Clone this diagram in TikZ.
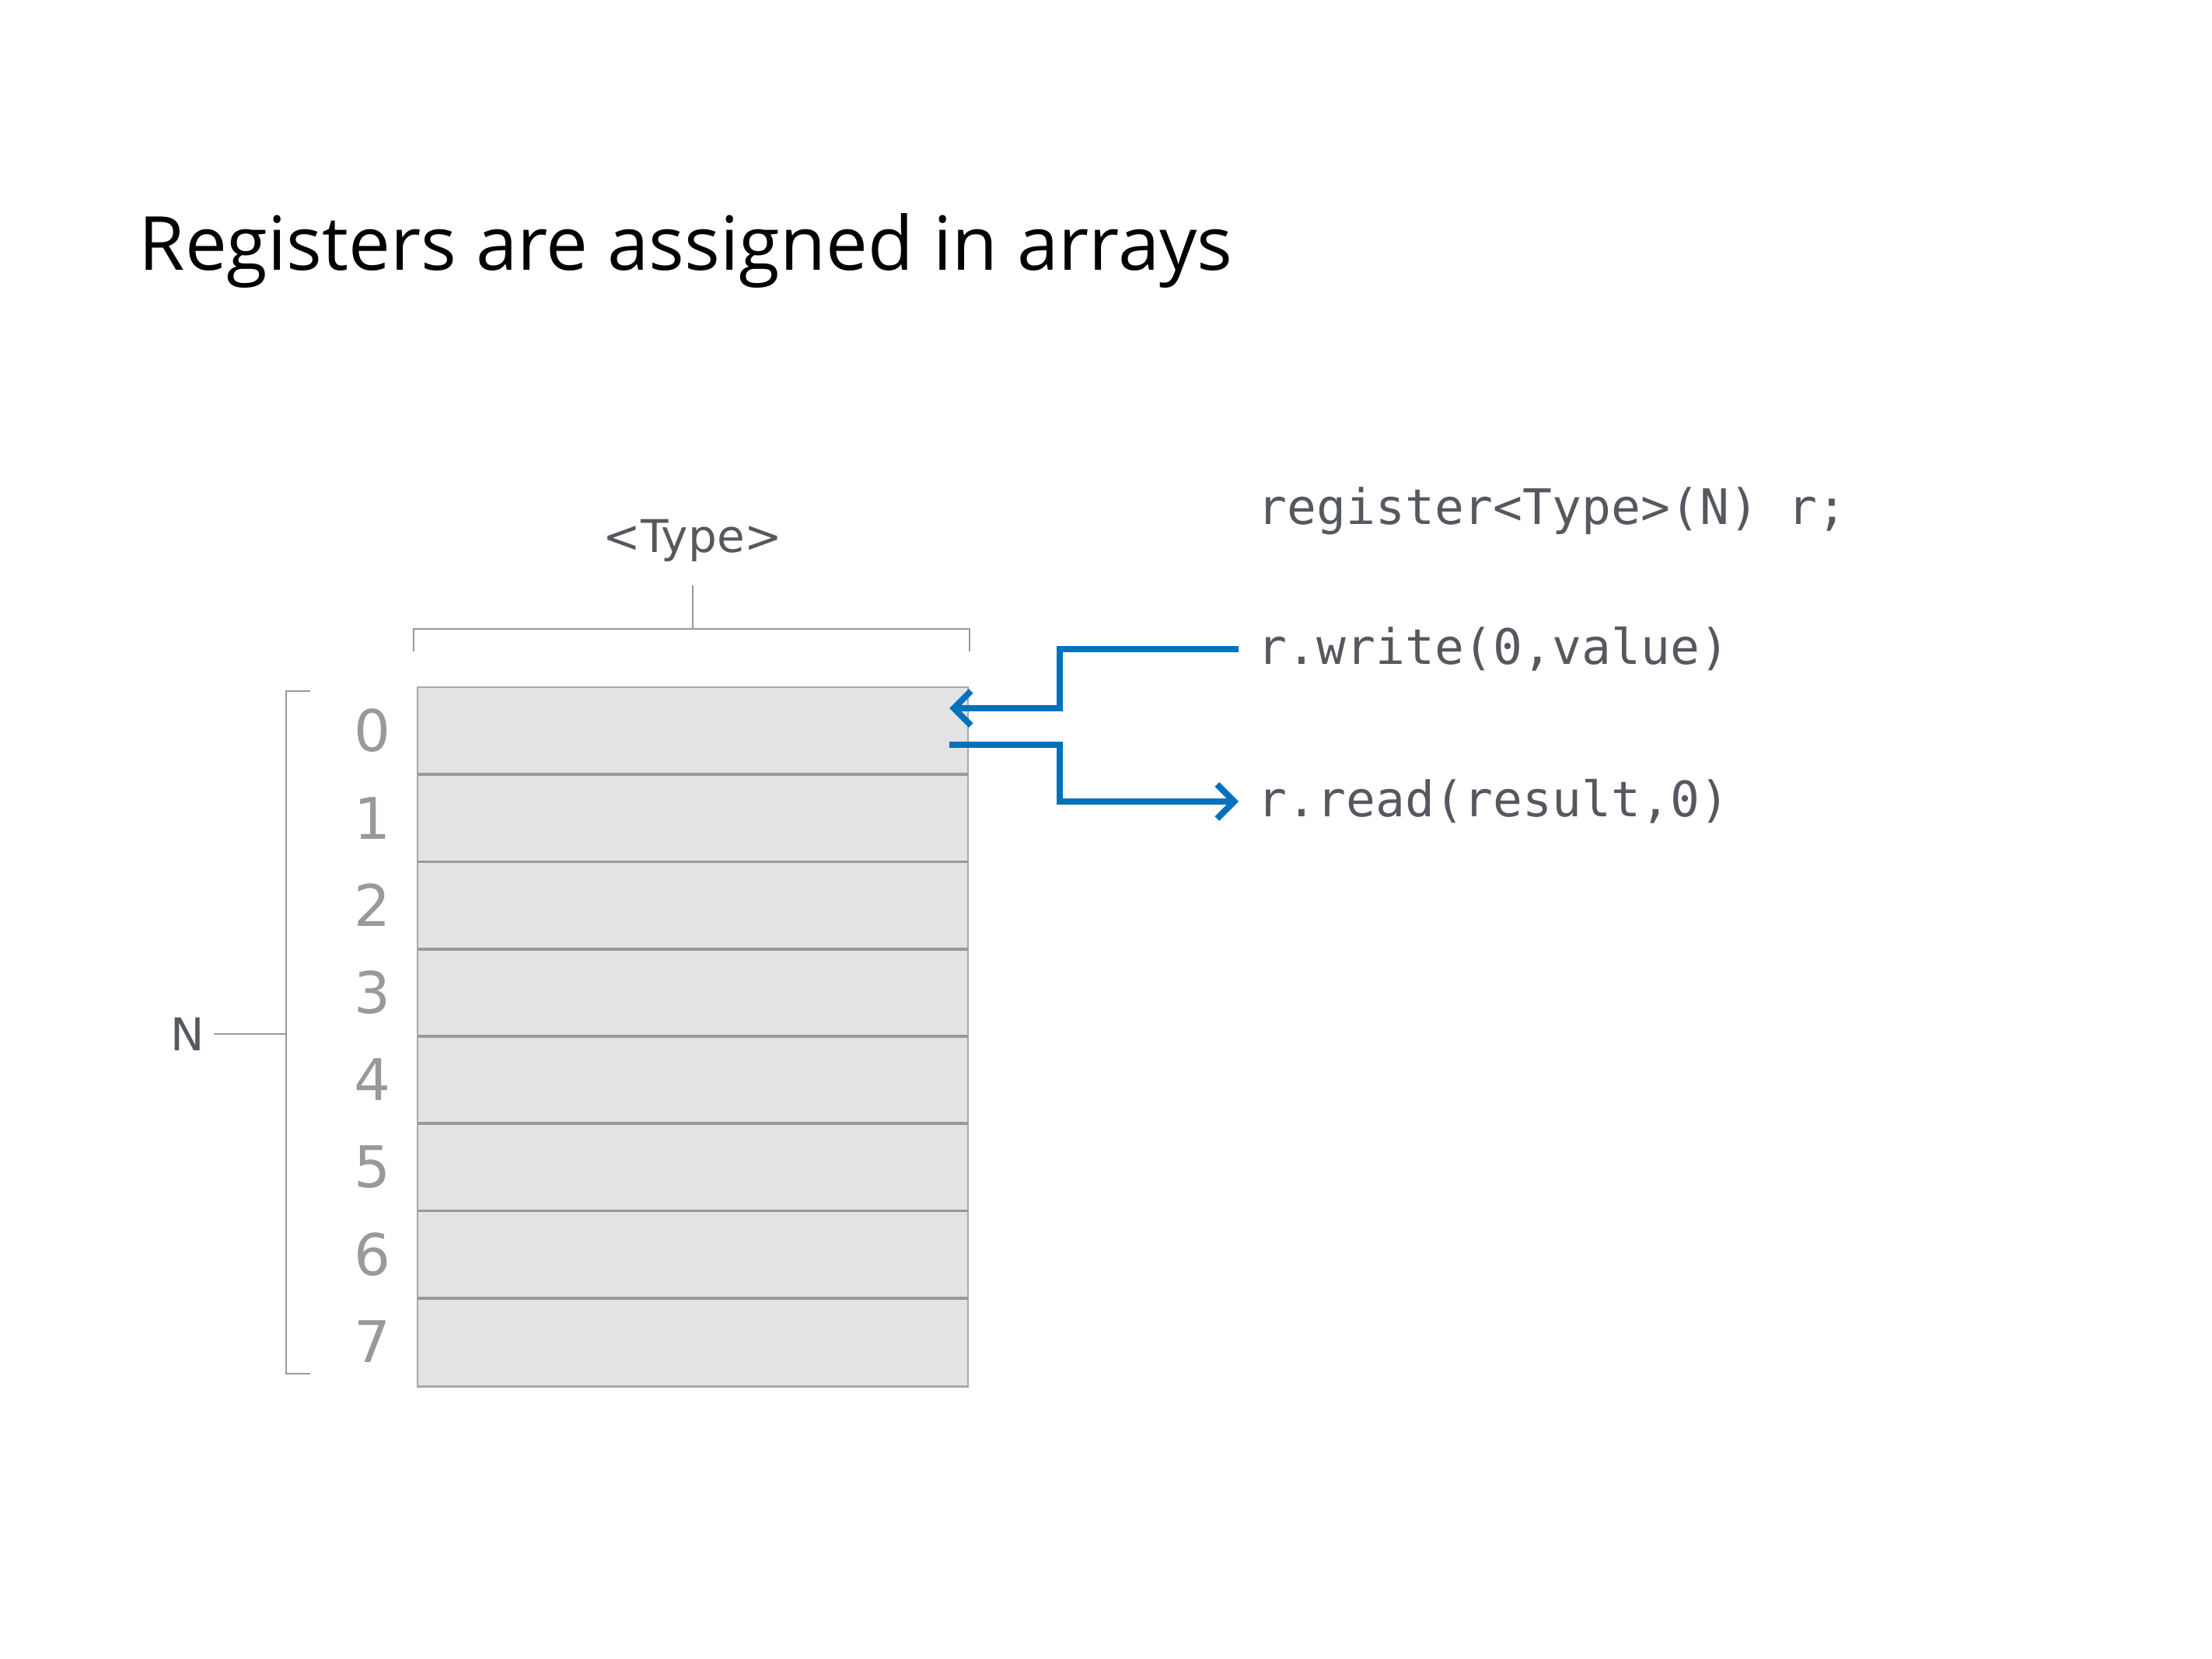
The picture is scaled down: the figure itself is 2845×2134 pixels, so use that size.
\documentclass[tikz,border=0pt]{standalone}
\usepackage{fontspec}
\setmainfont{DejaVu Sans}
\setmonofont{DejaVu Sans Mono}
\newfontfamily\titlefont{Open Sans}
\usetikzlibrary{arrows.meta}

\definecolor{linegray}{HTML}{999999}
\definecolor{cellfill}{HTML}{E3E3E3}
\definecolor{textgray}{HTML}{55595F}
\definecolor{flowblue}{HTML}{0072BB}

\begin{document}
\begin{tikzpicture}[x=0.01cm,y=-0.01cm,>={Straight Barb[length=0.22cm,width=0.44cm]},
    cell/.style={fill=cellfill,minimum width=7.06cm,minimum height=1.1225cm,
        inner sep=0pt,anchor=north west},
    brace/.style={draw=linegray,line width=0.6pt},
    sep/.style={draw=linegray,line width=1pt},
    idx/.style={text=linegray,font=\fontsize{21}{24}\selectfont},
    lbl/.style={text=textgray,font=\fontsize{16.5}{20}\selectfont},
    code/.style={text=textgray,font=\ttfamily\fontsize{17.9}{21}\selectfont,
        anchor=west,inner sep=0.24cm},
    flow/.style={draw=flowblue,line width=2.3pt}]

\useasboundingbox (0,0) rectangle (2845,2134);

% Title
\node[anchor=base west,inner sep=0pt,font=\titlefont\fontsize{27.3}{32}\selectfont]
    (title) at (178,348) {Registers are assigned in arrays};

% Register cells
\foreach \i in {0,...,7}{
    \node[cell] (cell\i) at (537,{884+112.25*\i}) {};
    \node[idx] (idx\i) at (479,{940+112.25*\i}) {\i};
}
\draw[draw=linegray!85,line width=0.6pt]
    (cell0.north west) rectangle (cell7.south east);
\foreach \i in {1,...,7}{
    \draw[sep] (cell\i.north west) -- (cell\i.north east);
}

% Type bracket
\node[lbl] (typ) at (891,695) {<Type>};
\draw[brace]
    (532,838)
    -- (532,809)
    -- (1247,809)
    -- (1247,838);
\draw[brace] (891,809) -- (891,753);

% Size bracket
\node[lbl] (size) at (241,1330) {N};
\draw[brace]
    (399,889)
    -- (368,889)
    -- (368,1767)
    -- (399,1767);
\draw[brace] (368,1330) -- (size.east);

% Code
\node[code] (decl) at (1593,657) {register<Type>(N) r;};
\node[code] (wr) at (1593,835) {r.write(0,value)};
\node[code] (rd) at (1593,1031) {r.read(result,0)};

% Access arrows
\coordinate (win) at (1221,911);
\coordinate (rout) at (1221,958);
\draw[flow,->] (wr.west) -- ++(-230,0) |- (win);
\draw[flow,->] (rout) -- ++(142,0) |- (rd.west);

\end{tikzpicture}
\end{document}
